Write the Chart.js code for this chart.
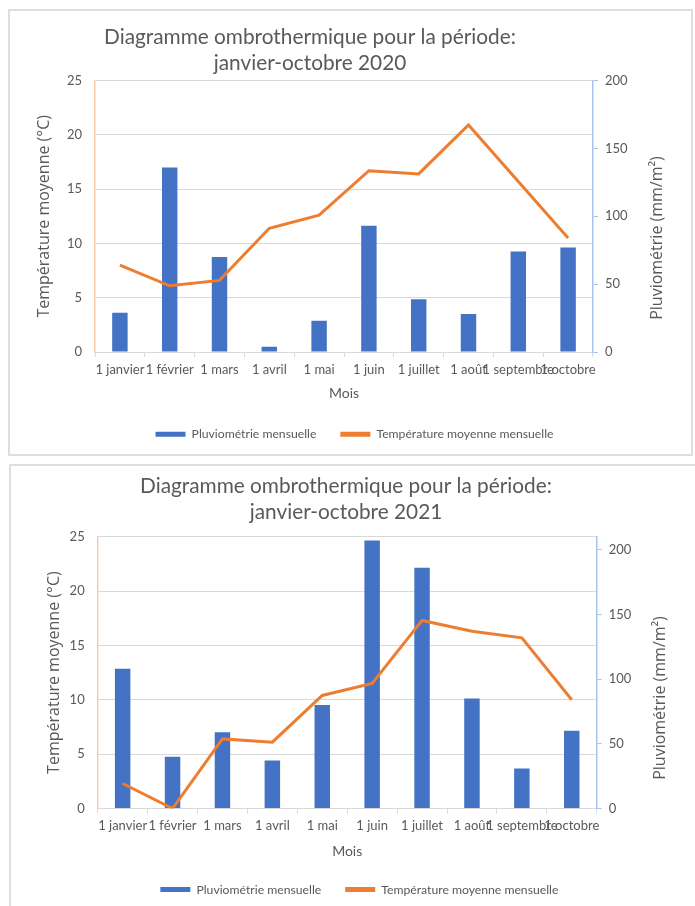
<!DOCTYPE html>
<html lang="fr">
<head>
<meta charset="utf-8">
<title>Diagrammes ombrothermiques 2020 / 2021</title>
<script src="https://cdn.jsdelivr.net/npm/chart.js@4/dist/chart.umd.min.js"></script>
<style>
  html, body { margin: 0; padding: 0; background: #ffffff; width: 695px; height: 906px; overflow: hidden; }
  .box { position: absolute; box-sizing: border-box; border: 2px solid #dedede; background: #ffffff; }
  #box-2020 { left: 8px; top: 9px; width: 685px; height: 447px; }
  #box-2021 { left: 9px; top: 464px; width: 700px; height: 460px; }
  canvas { position: absolute; left: 0; top: 0; }
</style>
</head>
<body>
<div class="box" id="box-2020"><canvas id="chart-2020" width="681" height="443"></canvas></div>
<div class="box" id="box-2021"><canvas id="chart-2021" width="684" height="440"></canvas></div>
<script>
const months = ["1 janvier", "1 février", "1 mars", "1 avril", "1 mai", "1 juin", "1 juillet", "1 août", "1 septembre", "1 octobre"];

// précipitations mensuelles (mm/m²) et températures moyennes (°C)
const pluvio2020 = [29, 136, 70, 4, 23, 93, 39, 28, 74, 77];
const temp2020 = [8.0, 6.1, 6.6, 11.4, 12.6, 16.7, 16.4, 20.9, 15.7, 10.5];
const pluvio2021 = [108, 40, 59, 37, 80, 207, 186, 85, 31, 60];
const temp2021 = [2.3, 0, 6.4, 6.1, 10.4, 11.5, 17.3, 16.3, 15.7, 10.0];

const tempTicks = [0, 5, 10, 15, 20, 25];
const pluvioTicks = [0, 50, 100, 150, 200];

const BLUE = "#4472C4";
const ORANGE = "#ED7D31";
const TEXT = "#595959";
const GRID = "#d9d9d9";
const NARROW = "Lato, 'Open Sans', sans-serif";
const WIDE = "'Open Sans', 'Noto Sans', sans-serif";

// titre sur deux lignes et titre de l'axe de droite (lu de bas en haut, comme dans Excel)
const textPlugin = {
  id: "freeTexts",
  afterDraw(chart, args, opts) {
    const ctx = chart.ctx;
    opts.items.forEach(item => {
      ctx.save();
      ctx.font = item.font;
      ctx.fillStyle = TEXT;
      ctx.textAlign = "center";
      ctx.textBaseline = "middle";
      ctx.translate(item.x, item.y);
      ctx.rotate(item.rotation || 0);
      ctx.fillText(item.text, 0, 0);
      ctx.restore();
    });
  }
};

function drawOmbro(canvasId, year, pluvio, temp, layout) {
  const ctx = document.getElementById(canvasId);

  new Chart(ctx, {
    data: {
      labels: months,
      datasets: [
        {
          type: "bar",
          label: "Pluviométrie mensuelle",
          data: pluvio,
          yAxisID: "y1",
          backgroundColor: BLUE,
          barPercentage: 0.31,
          categoryPercentage: 1,
          order: 1
        },
        {
          type: "line",
          label: "Température moyenne mensuelle",
          data: temp,
          yAxisID: "y",
          borderColor: ORANGE,
          backgroundColor: ORANGE,
          borderWidth: 3,
          pointRadius: 0,
          tension: 0,
          order: 0
        }
      ]
    },
    plugins: [textPlugin],
    options: {
      responsive: false,
      animation: false,
      devicePixelRatio: 1,
      layout: { padding: layout.padding },
      plugins: {
        tooltip: { enabled: false },
        freeTexts: {
          items: [
            { text: "Diagramme ombrothermique pour la période:", x: layout.titleX, y: layout.titleY, font: "20.8px " + NARROW },
            { text: "janvier-octobre " + year, x: layout.titleX, y: layout.titleY + 26, font: "20.8px " + NARROW },
            { text: "Pluviométrie (mm/m²)", x: layout.rightTitle[0], y: layout.rightTitle[1], rotation: -Math.PI / 2, font: "16px " + WIDE }
          ]
        },
        legend: {
          position: "bottom",
          labels: {
            color: TEXT,
            font: { family: NARROW, size: 12.2 },
            boxWidth: 30,
            boxHeight: 5,
            padding: 24,
            sort: (a, b) => a.datasetIndex - b.datasetIndex,
            generateLabels(chart) {
              const items = Chart.defaults.plugins.legend.labels.generateLabels(chart);
              items.forEach(item => { item.lineWidth = 0; });
              return items;
            }
          }
        }
      },
      scales: {
        x: {
          offset: true,
          afterFit: scale => { scale.height = layout.xHeight; },
          grid: { display: true, offset: true, drawOnChartArea: false, drawTicks: true, tickLength: 5, color: GRID },
          border: { color: GRID, width: 1 },
          ticks: {
            autoSkip: false,
            maxRotation: 0,
            minRotation: 0,
            padding: 5,
            color: TEXT,
            font: { family: NARROW, size: 13 }
          },
          title: {
            display: true,
            text: "Mois",
            color: TEXT,
            font: { family: NARROW, size: 14, lineHeight: 1.2 },
            padding: { top: 0, bottom: layout.moisPad }
          }
        },
        y: {
          position: "left",
          min: 0,
          max: 25,
          afterFit: scale => { scale.width = layout.leftWidth; },
          afterBuildTicks: scale => { scale.ticks = tempTicks.map(v => ({ value: v })); },
          grid: { color: GRID, drawTicks: false },
          border: { color: "#f8cbad", width: 1.5 },
          ticks: {
            padding: 13,
            color: TEXT,
            font: { family: NARROW, size: 13 }
          },
          title: {
            display: true,
            text: "Température moyenne (°C)",
            color: TEXT,
            font: { family: WIDE, size: 16, lineHeight: 1.2 },
            padding: { top: layout.leftTitlePad, bottom: 0 }
          }
        },
        y1: {
          position: "right",
          min: 0,
          max: layout.pluvioMax,
          afterFit: scale => { scale.width = layout.rightWidth; },
          afterBuildTicks: scale => { scale.ticks = pluvioTicks.map(v => ({ value: v })); },
          grid: { drawOnChartArea: false, drawTicks: true, tickLength: 5, color: "#a9c4eb" },
          border: { color: "#a9c4eb", width: 1.5 },
          ticks: {
            padding: 7,
            color: TEXT,
            font: { family: NARROW, size: 13 }
          }
        }
      }
    }
  });
}

drawOmbro("chart-2020", 2020, pluvio2020, temp2020, {
  padding: { left: 22, right: 14, top: 69.5, bottom: 3.7 },
  titleX: 300,
  titleY: 26,
  rightTitle: [647.5, 227],
  xHeight: 52,
  moisPad: 2.6,
  leftWidth: 63,
  leftTitlePad: 2.4,
  rightWidth: 84,
  pluvioMax: 200
});

drawOmbro("chart-2021", 2021, pluvio2021, temp2021, {
  padding: { left: 27, right: 14.3, top: 70.7, bottom: 0.3 },
  titleX: 335,
  titleY: 20,
  rightTitle: [649, 232],
  xHeight: 51,
  moisPad: 0,
  leftWidth: 59.7,
  leftTitlePad: 6.4,
  rightWidth: 84,
  pluvioMax: 210
});
</script>
</body>
</html>
